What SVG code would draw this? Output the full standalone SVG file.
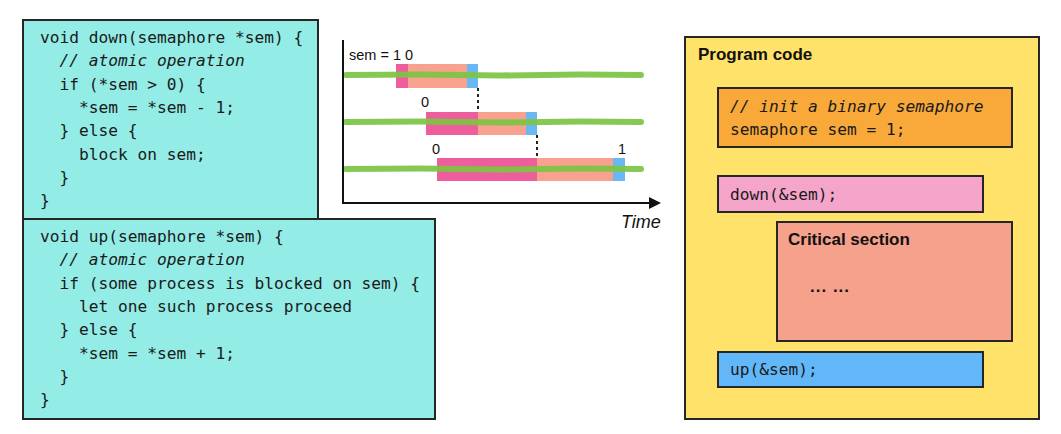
<svg xmlns="http://www.w3.org/2000/svg" width="1061" height="434" viewBox="0 0 1061 434">
<style>
.box{stroke:#262626;stroke-width:2}
.mono{font-family:"DejaVu Sans Mono","Liberation Mono",monospace;font-size:16.2px;fill:#1a1a1a}
.it{font-style:italic}
.sans{font-family:"Liberation Sans",Arial,sans-serif;fill:#111}
.bold{font-weight:bold;font-size:17px}
.lbl{font-size:14.5px}
.green{stroke:#7cc443;stroke-width:6;fill:none;stroke-linecap:round;opacity:0.92}
.dash{stroke:#222;stroke-width:2;stroke-dasharray:3 3}
</style>
<defs>
<marker id="arr" markerWidth="12" markerHeight="12" refX="10" refY="6" orient="auto" markerUnits="userSpaceOnUse">
<path d="M0,0 L12,6 L0,12 Z" fill="#111"/>
</marker>
</defs>
<rect width="1061" height="434" fill="#ffffff"/>

<g id="down-code">
<rect class="box" x="23" y="20" width="295" height="200" fill="#93ece6"/>
<text class="mono" x="40" y="43">void down(semaphore *sem) {</text>
<text class="mono it" x="59.5" y="66.3">// atomic operation</text>
<text class="mono" x="59.5" y="89.6">if (*sem &gt; 0) {</text>
<text class="mono" x="79" y="112.9">*sem = *sem - 1;</text>
<text class="mono" x="59.5" y="136.2">} else {</text>
<text class="mono" x="79" y="159.5">block on sem;</text>
<text class="mono" x="59.5" y="182.8">}</text>
<text class="mono" x="40" y="206.1">}</text>
</g>

<g id="up-code">
<rect class="box" x="23" y="219" width="412" height="200" fill="#93ece6"/>
<text class="mono" x="40" y="242">void up(semaphore *sem) {</text>
<text class="mono it" x="59.5" y="265.3">// atomic operation</text>
<text class="mono" x="59.5" y="288.6">if (some process is blocked on sem) {</text>
<text class="mono" x="79" y="311.9">let one such process proceed</text>
<text class="mono" x="59.5" y="335.2">} else {</text>
<text class="mono" x="79" y="358.5">*sem = *sem + 1;</text>
<text class="mono" x="59.5" y="381.8">}</text>
<text class="mono" x="40" y="405.1">}</text>
</g>

<g id="timeline">
<g id="row1">
<rect x="396" y="64" width="12" height="24" fill="#ee5d9c"/>
<rect x="408" y="64" width="59" height="24" fill="#f8a18f"/>
<rect x="467" y="64" width="11" height="24" fill="#6ab8f3"/>
<path class="green" d="M346,75 L420,74.5 L500,75.5 L580,74.5 L641,75"/>
</g>
<g id="row2">
<rect x="426" y="112" width="52" height="23" fill="#ee5d9c"/>
<rect x="478" y="112" width="48" height="23" fill="#f8a18f"/>
<rect x="526" y="112" width="11" height="23" fill="#6ab8f3"/>
<path class="green" d="M346,122 L420,121.5 L500,122.5 L580,121.5 L641,122"/>
</g>
<g id="row3">
<rect x="437" y="158" width="100" height="23" fill="#ee5d9c"/>
<rect x="537" y="158" width="76" height="23" fill="#f8a18f"/>
<rect x="613" y="158" width="12" height="23" fill="#6ab8f3"/>
<path class="green" d="M346,169 L420,168.5 L500,169.5 L580,168.5 L641,169"/>
</g>
<text class="sans lbl" x="349" y="60">sem = 1 0</text>
<text class="sans lbl" x="421" y="107">0</text>
<text class="sans lbl" x="432" y="154">0</text>
<text class="sans lbl" x="618" y="154">1</text>
<text class="sans" x="621" y="228" font-size="18" font-style="italic">Time</text>
</g>

<g id="connectors">
<line x1="343" y1="40" x2="343" y2="203" stroke="#111" stroke-width="2"/>
<line x1="342" y1="203" x2="659" y2="203" stroke="#111" stroke-width="2" marker-end="url(#arr)"/>
<line class="dash" x1="478" y1="88" x2="478" y2="112"/>
<line class="dash" x1="537" y1="135" x2="537" y2="158"/>
</g>

<g id="program-code">
<rect class="box" x="685" y="37" width="354" height="382" fill="#ffe26a"/>
<text class="sans bold" x="698" y="60">Program code</text>
</g>

<g id="init">
<rect class="box" x="718" y="88" width="294" height="59" fill="#f8a93a"/>
<text class="mono it" x="730" y="112">// init a binary semaphore</text>
<text class="mono" x="730" y="135">semaphore sem = 1;</text>
</g>

<g id="down-call">
<rect class="box" x="718" y="176" width="265" height="36" fill="#f4a5c9"/>
<text class="mono" x="730" y="200">down(&amp;sem);</text>
</g>

<g id="critical">
<rect class="box" x="777" y="222" width="235" height="119" fill="#f5a18b"/>
<text class="sans bold" x="788" y="245">Critical section</text>
<text class="sans" x="810" y="292" font-size="17" font-weight="bold" letter-spacing="1">... ...</text>
</g>

<g id="up-call">
<rect class="box" x="718" y="352" width="265" height="35" fill="#62b7f8"/>
<text class="mono" x="730" y="375">up(&amp;sem);</text>
</g>
</svg>
